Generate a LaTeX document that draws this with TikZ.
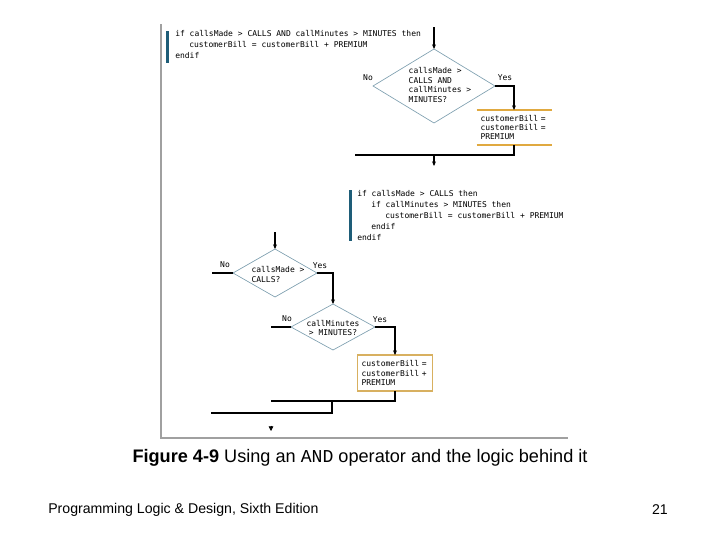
\documentclass[tikz,border=0pt]{standalone}
\usepackage{fontspec}
\setmainfont{Liberation Sans}
\newfontfamily\codefont{DejaVu Sans Mono}
\newfontfamily\capmono{Liberation Mono}
\usetikzlibrary{arrows.meta, positioning, shapes.geometric}
\definecolor{barTeal}{HTML}{1E5D78}
\definecolor{boxTan}{HTML}{D8B060}
\definecolor{lineOrange}{HTML}{E0A940}
\definecolor{diamondGrey}{HTML}{7FA0B0}
\definecolor{frameGrey}{HTML}{A0A0A0}
\newcommand{\codeindent}{\hspace*{10.5pt}}

\begin{document}
\begin{tikzpicture}[x=0.75pt, y=-0.75pt,
    decision/.style={diamond, draw=diamondGrey, line width=0.5pt,
                     inner sep=0pt, outer sep=0pt},
    codeline/.style={inner sep=0pt, align=left,
                     font=\codefont\fontsize{6}{8.25}\selectfont},
    condtext/.style={inner sep=0pt, font=\codefont\fontsize{6}{7.3}\selectfont},
    branch/.style={inner sep=0pt, font=\codefont\fontsize{6}{7}\selectfont},
    procbox/.style={align=left, text width=50.25pt, inner xsep=3pt,
                    inner ysep=0pt, outer sep=0pt,
                    font=\codefont\fontsize{6}{7.1}\selectfont},
    flow/.style={draw, line width=0.8pt},
    flowarrow/.style={flow, -{Stealth[length=3.5pt, width=3pt]}},
  ]
    \useasboundingbox (0,0) rectangle (720,540);

    % frame of the figure
    \draw[frameGrey, line width=0.8pt] (161,24) |- (568,438);

    % pseudocode, combined condition
    \fill[barTeal] (166,31) rectangle (169,63);
    \node[codeline, anchor=north west] (code1) at (175,30)
      {if callsMade > CALLS AND callMinutes > MINUTES then\\
       \codeindent customerBill = customerBill + PREMIUM\\
       endif};

    % flowchart, combined condition
    \coordinate (in1) at (434,27);
    \node[decision, minimum width=91.5pt, minimum height=55.5pt] (d1) at (434,86) {};
    \node[condtext, align=left] (d1txt) at (440,85)
      {callsMade >\\CALLS AND\\callMinutes >\\MINUTES?};
    \node[branch] (no1) at (368,78) {No};
    \node[branch] (yes1) at (505,78) {Yes};
    \node[procbox, minimum height=26.25pt] (box1) at (514,127.5)
      {customerBill =\\customerBill =\\PREMIUM};
    \draw[lineOrange, line width=0.8pt] (box1.north west) -- (box1.north east);
    \draw[lineOrange, line width=0.8pt] (box1.south west) -- (box1.south east);
    \coordinate (j1) at (355,155);
    \coordinate (m1) at (434,155);
    \coordinate (out1) at (434,166);

    \draw[flowarrow] (in1) -- (d1.north);
    \draw[flowarrow] (d1.east) -| (box1.north);
    \draw[flow] (box1.south) |- (j1);
    \draw[flowarrow] (m1) -- (out1);

    % pseudocode, nested conditions
    \fill[barTeal] (349,190) rectangle (352,241);
    \node[codeline, anchor=north west] (code2) at (357,190)
      {if callsMade > CALLS then\\
       \codeindent if callMinutes > MINUTES then\\
       \codeindent\codeindent customerBill = customerBill + PREMIUM\\
       \codeindent endif\\
       endif};

    % flowchart, nested conditions
    \coordinate (in2) at (275,232);
    \node[decision, minimum width=63pt, minimum height=36pt] (d2) at (275,273) {};
    \node[condtext, align=left] (d2txt) at (278,274.5) {callsMade >\\CALLS?};
    \node[branch] (no2) at (225,265) {No};
    \node[branch] (yes2) at (320,266) {Yes};
    \coordinate (e2) at (212,273);

    \node[decision, minimum width=63pt, minimum height=34.5pt] (d3) at (333,327) {};
    \node[condtext, align=center] (d3txt) at (333,328) {callMinutes\\> MINUTES?};
    \node[branch] (no3) at (287,319) {No};
    \node[branch] (yes3) at (380,320) {Yes};
    \coordinate (e3) at (271,327);

    \node[procbox, draw=boxTan, line width=0.8pt, minimum height=27pt] (box2) at (395,373)
      {customerBill =\\customerBill +\\PREMIUM};
    \coordinate (j2) at (271,401);
    \coordinate (j3) at (332,401);
    \coordinate (j4) at (211,413);
    \coordinate (t1) at (271,425.5);
    \coordinate (t2) at (271,431);

    \draw[flowarrow] (in2) -- (d2.north);
    \draw[flow] (d2.west) -- (e2);
    \draw[flowarrow] (d2.east) -| (d3.north);
    \draw[flow] (d3.west) -- (e3);
    \draw[flowarrow] (d3.east) -| (box2.north);
    \draw[flow] (box2.south) |- (j2);
    \draw[flow] (j3) |- (j4);
    \draw[line width=0.6pt, -{Triangle[length=3.5pt, width=3.5pt]}] (t1) -- (t2);

    % caption and footer
    \node[font=\fontsize{13.6}{16}\selectfont, inner sep=0pt] (caption) at (360,458)
      {\bfseries Figure 4-9 \mdseries Using an {\capmono AND} operator and the logic behind it};
    \node[font=\fontsize{10.6}{13}\selectfont, inner sep=0pt, anchor=west] (footer) at (48,510)
      {Programming Logic \& Design, Sixth Edition};
    \node[font=\fontsize{10.6}{13}\selectfont, inner sep=0pt, anchor=east] (pagenum) at (668,510)
      {21};
  \end{tikzpicture}
\end{document}
